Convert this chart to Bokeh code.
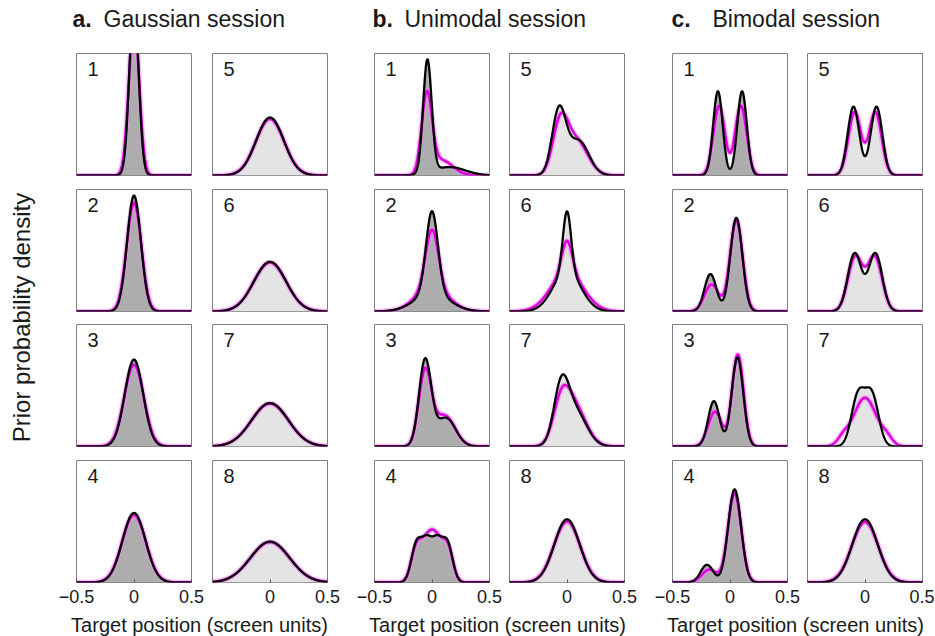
import numpy as np
from bokeh.plotting import figure
from bokeh.models import Range1d, Label, LinearAxis, FixedTicker
from bokeh.layouts import row, column
from bokeh.embed import file_html
from bokeh.resources import INLINE

FONT = "Liberation Sans"

# shared axes of the small panels
x_ticks = [-0.5, 0, 0.5]
x_tick_text = ["\u22120.5", "0", "0.5"]
y_top = 7.0

session_letters = ["a.", "b.", "c."]
session_names = ["Gaussian session", "Unimodal session", "Bimodal session"]
x_label = "Target position (screen units)"
y_label = "Prior probability density"
panel_numbers = [1, 2, 3, 4, 5, 6, 7, 8]

# Gaussian session: SD of the true prior (black) and of the estimate (magenta)
gauss_sd_true = [0.040, 0.060, 0.080, 0.100, 0.120, 0.140, 0.160, 0.170]
gauss_sd_est = [0.045, 0.064, 0.085, 0.103, 0.123, 0.142, 0.162, 0.172]

# unimodal / bimodal sessions: mixture components (weight, mean, SD)
unimodal_true = [
    [(0.60, -0.040, 0.037), (0.17, 0.15, 0.14)],
    [(0.60, 0.000, 0.051), (0.40, 0.00, 0.15)],
    [(0.65, -0.060, 0.053), (0.35, 0.12, 0.085)],
    [(0.242, -0.135, 0.045), (0.242, -0.045, 0.045), (0.242, 0.045, 0.045), (0.242, 0.135, 0.045)],
    [(0.55, -0.070, 0.060), (0.45, 0.10, 0.090)],
    [(0.30, 0.000, 0.035), (0.70, 0.00, 0.120)],
    [(0.50, -0.050, 0.065), (0.50, 0.07, 0.100)],
    [(1.00, 0.000, 0.110)],
]
unimodal_est = [
    [(0.50, -0.045, 0.045), (0.22, 0.08, 0.10)],
    [(0.45, 0.000, 0.055), (0.50, 0.00, 0.14)],
    [(0.58, -0.060, 0.055), (0.40, 0.11, 0.09)],
    [(0.235, -0.135, 0.047), (0.235, -0.045, 0.047), (0.235, 0.045, 0.047), (0.235, 0.135, 0.047), (0.04, 0.0, 0.035)],
    [(0.45, -0.060, 0.065), (0.50, 0.08, 0.100)],
    [(0.20, 0.000, 0.045), (0.80, 0.00, 0.140)],
    [(0.35, -0.050, 0.070), (0.60, 0.06, 0.105)],
    [(1.00, 0.000, 0.114)],
]
bimodal_true = [
    [(0.50, -0.105, 0.0413), (0.50, 0.105, 0.0413)],
    [(0.28, -0.170, 0.052), (0.70, 0.055, 0.052)],
    [(0.326, -0.140, 0.050), (0.64, 0.065, 0.050)],
    [(0.14, -0.200, 0.055), (0.75, 0.040, 0.056)],
    [(0.50, -0.100, 0.0505), (0.50, 0.100, 0.0505)],
    [(0.50, -0.090, 0.060), (0.50, 0.090, 0.060)],
    [(0.42, -0.060, 0.058), (0.42, 0.060, 0.058)],
    [(1.00, 0.000, 0.110)],
]
bimodal_est = [
    [(0.50, -0.095, 0.050), (0.50, 0.095, 0.050)],
    [(0.24, -0.160, 0.062), (0.72, 0.055, 0.055)],
    [(0.30, -0.130, 0.060), (0.66, 0.068, 0.050)],
    [(0.12, -0.180, 0.065), (0.74, 0.040, 0.058)],
    [(0.50, -0.090, 0.055), (0.50, 0.090, 0.055)],
    [(0.50, -0.085, 0.064), (0.50, 0.085, 0.064)],
    [(0.70, 0.000, 0.100), (0.05, -0.190, 0.050), (0.05, 0.190, 0.050)],
    [(1.00, 0.000, 0.115)],
]

gauss_true = [[(1.0, 0.0, s)] for s in gauss_sd_true]
gauss_est = [[(1.0, 0.0, s)] for s in gauss_sd_est]
sessions = [(gauss_true, gauss_est), (unimodal_true, unimodal_est), (bimodal_true, bimodal_est)]

FRAME_W, FRAME_H = 115, 122
YLAB_W = 56
col_borders = [(20, 21), (0, 27), (20, 20), (0, 28), (20, 20), (0, 12)]
row_borders = [(8, 6), (8, 5), (8, 6), (8, 28)]
fills = ["#adadad", "#e4e4e4"]
TOTAL_W = YLAB_W + sum(bl + FRAME_W + br for bl, br in col_borders)

xs = np.linspace(-0.5, 0.5, 601)


def mixture(x, comps):
    y = np.zeros_like(x)
    for w, mu, sd in comps:
        y += w * np.exp(-0.5 * ((x - mu) / sd) ** 2) / (sd * np.sqrt(2 * np.pi))
    return y


def make_panel(num, comps_true, comps_est, fill, bx, by, bottom, first_col):
    bl, br = bx
    bt, bb = by
    p = figure(width=bl + FRAME_W + br, height=bt + FRAME_H + bb,
               x_range=Range1d(-0.5, 0.5), y_range=Range1d(0, y_top),
               x_axis_location=None, y_axis_location=None,
               toolbar_location=None, output_backend="svg",
               min_border_left=bl, min_border_right=br,
               min_border_top=bt, min_border_bottom=bb)
    p.grid.visible = False
    p.outline_line_color = "#808080"
    p.outline_line_width = 1

    y_true = mixture(xs, comps_true)
    y_est = mixture(xs, comps_est)
    p.varea(x=xs, y1=0, y2=y_true, fill_color=fill)
    p.line(xs, y_est, line_color="#f08cf0", line_width=5.5, line_alpha=0.55)
    p.line(xs, y_est, line_color="#e000e0", line_width=2.6)
    p.line(xs, y_true, line_color="black", line_width=2.3)

    if bottom:
        labels = dict(zip(x_ticks, x_tick_text))
        if not first_col:
            labels[-0.5] = ""
        ax = LinearAxis(ticker=FixedTicker(ticks=x_ticks), major_tick_in=3, major_tick_out=0,
                        minor_tick_line_color=None, axis_line_color=None,
                        major_tick_line_color="#555555", major_label_standoff=7,
                        major_label_overrides=labels, major_label_text_font=FONT,
                        major_label_text_font_size="18px", major_label_text_color="#1a1a1a")
        p.add_layout(ax, "below")

    p.add_layout(Label(x=-0.5, y=y_top, x_offset=11, y_offset=-8, text=str(num),
                       text_baseline="top", text_font=FONT, text_font_size="20px",
                       text_color="#1a1a1a"))
    return p


def text_strip(width, height):
    p = figure(width=width, height=height, x_range=Range1d(0, width), y_range=Range1d(0, height),
               x_axis_location=None, y_axis_location=None, toolbar_location=None,
               output_backend="svg", min_border=0)
    p.grid.visible = False
    p.outline_line_color = None
    return p


# header with session titles
header = text_strip(TOTAL_W, 45)
letter_x = [72, 372, 671]
name_x = [103, 404, 712]
for letter, name, lx, nx in zip(session_letters, session_names, letter_x, name_x):
    header.add_layout(Label(x=lx, y=14, text=letter, text_font=FONT, text_font_size="23px",
                            text_font_style="bold", text_color="#1a1a1a"))
    header.add_layout(Label(x=nx, y=14, text=name, text_font=FONT, text_font_size="23px",
                            text_color="#1a1a1a"))

# y label strip
body_h = sum(bt + FRAME_H + bb for bt, bb in row_borders)
ylab = text_strip(YLAB_W, body_h)
ylab.add_layout(Label(x=21, y=body_h - 272, text=y_label, angle=np.pi / 2,
                      text_align="center", text_baseline="middle", text_font=FONT,
                      text_font_size="24px", text_color="#1a1a1a"))

cols = [ylab]
for s, (comps_true, comps_est) in enumerate(sessions):
    for c in range(2):
        figs = []
        for r in range(4):
            i = c * 4 + r
            figs.append(make_panel(panel_numbers[i], comps_true[i], comps_est[i], fills[c],
                                   col_borders[s * 2 + c], row_borders[r], r == 3, c == 0))
        cols.append(column(*figs))

# footer with x labels
footer_h = 636 - 45 - body_h
footer = text_strip(TOTAL_W, footer_h)
for cx in [199, 497, 795]:
    footer.add_layout(Label(x=cx, y=12, text=x_label, text_align="center",
                            text_baseline="middle", text_font=FONT,
                            text_font_size="20px", text_color="#1a1a1a"))

page = column(header, row(*cols), footer)
open("out.html", "w").write(file_html(page, INLINE))
